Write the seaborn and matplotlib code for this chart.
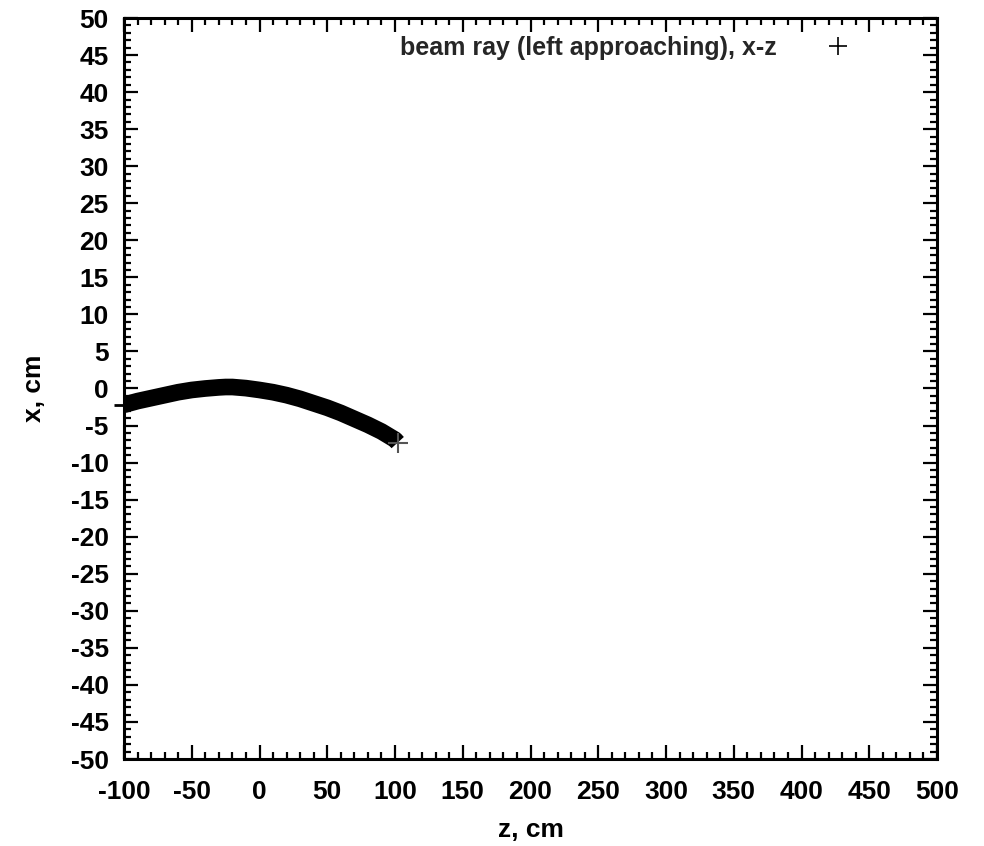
import matplotlib
matplotlib.use("Agg")
import matplotlib.pyplot as plt
import seaborn as sns
import pandas as pd
from matplotlib.lines import Line2D
from matplotlib.ticker import MultipleLocator

# beam ray centre
z_cm = [-100, -90, -80, -70, -60, -50, -40, -30, -25, -20, -10, 0, 10, 20, 30, 40,
        50, 60, 70, 80, 90, 100, 102]
x_cm = [-2.2, -1.7, -1.3, -0.9, -0.5, -0.2, 0.0, 0.15, 0.2, 0.2, 0.05, -0.2, -0.5,
        -0.9, -1.4, -2.0, -2.6, -3.3, -4.1, -4.9, -5.8, -6.9, -7.3]
series_label = "beam ray (left approaching), x-z"
x_ticks = [-100, -50, 0, 50, 100, 150, 200, 250, 300, 350, 400, 450, 500]
y_ticks = list(range(-50, 51, 5))

df = pd.DataFrame({"z": z_cm, "x": x_cm})

sns.set_theme(style="ticks")
plt.rcParams["font.family"] = ["Liberation Sans", "DejaVu Sans"]
plt.rcParams["font.weight"] = "bold"
plt.rcParams["axes.unicode_minus"] = False

fig = plt.figure(figsize=(9.84, 8.46), dpi=100)
ax = fig.add_axes([124 / 984, 1 - 759 / 846, (937 - 124) / 984, (759 - 18) / 846])

sns.lineplot(data=df, x="z", y="x", ax=ax, color="black", linewidth=12,
             solid_capstyle="butt", legend=False, sort=False)
ax.plot(z_cm[0], x_cm[0], marker="+", markersize=14, color="black",
        markeredgewidth=2, clip_on=False, linestyle="none")
ax.plot(z_cm[-1], x_cm[-1], marker="+", markersize=14, color="#555555",
        markeredgewidth=1.5, linestyle="none")

ax.set_xlim(-100, 500)
ax.set_ylim(-50, 50)
ax.set_xticks(x_ticks)
ax.set_yticks(y_ticks)
ax.xaxis.set_minor_locator(MultipleLocator(10))
ax.yaxis.set_minor_locator(MultipleLocator(1))
ax.tick_params(which="both", direction="in", top=True, right=True,
               labelsize=19, width=1.6, color="black", labelcolor="black")
ax.tick_params(which="major", length=10)
ax.tick_params(which="minor", length=5)
ax.tick_params(axis="x", which="major", pad=15)
ax.tick_params(axis="y", which="major", pad=11)
for lab in ax.get_xticklabels() + ax.get_yticklabels():
    lab.set_fontweight("bold")
for sp in ax.spines.values():
    sp.set_linewidth(2.2)
    sp.set_color("black")
    sp.set_visible(True)

ax.set_xlabel("z, cm", fontsize=19, fontweight="bold", color="black", labelpad=10)
ax.set_ylabel("x, cm", fontsize=19, fontweight="bold", color="black", labelpad=18)

handle = Line2D([], [], color="black", marker="+", linestyle="none",
                markersize=13, markeredgewidth=1.2)
leg = ax.legend([handle], [series_label], loc="upper right", markerfirst=False,
                frameon=False, fontsize=18, handletextpad=1.45,
                bbox_to_anchor=(0.931, 1.0), borderaxespad=0.3)
for t in leg.get_texts():
    t.set_fontweight("bold")

fig.savefig("out.png", dpi=100)
